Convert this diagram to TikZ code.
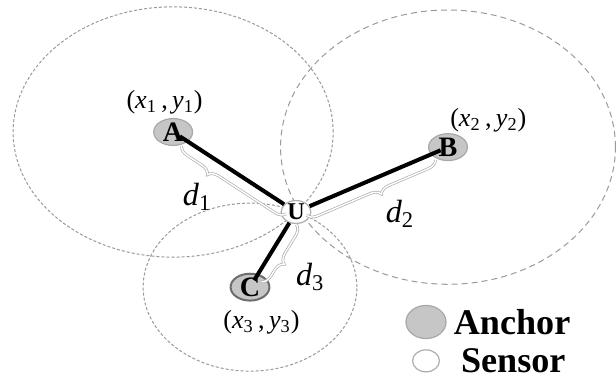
\documentclass[tikz,border=0pt]{standalone}
\usepackage{fontspec}
\setmainfont{Liberation Serif}
\usetikzlibrary{calc, positioning, shapes.geometric, decorations.pathreplacing}
\definecolor{cAnc}{HTML}{C6C6C6}
\definecolor{cRng}{HTML}{9A9A9A}
\newcommand{\xylab}[1]{(\textit{x}\textsubscript{#1}\,,\,\textit{y}\textsubscript{#1})}
\newcommand{\dlab}[1]{\textit{d}\textsubscript{#1}}
\tikzset{
    anc/.style={ellipse, draw=cAnc!85!black, fill=cAnc, line width=0.6pt,
                minimum width=0.68cm, minimum height=0.47cm, inner sep=0pt,
                font=\bfseries\fontsize{14}{15}\selectfont},
    sens/.style={ellipse, draw=cRng!80, fill=white, line width=0.6pt,
                 minimum width=0.52cm, minimum height=0.4cm, inner sep=0pt,
                 font=\bfseries\fontsize{12}{13}\selectfont},
    rng/.style={draw=cRng, line width=0.5pt, dash pattern=on 1.5pt off 1pt},
    rngwide/.style={rng, dash pattern=on 3pt off 2pt},
    spoke/.style={line width=2pt, black},
    brc/.style={decorate, decoration={brace, amplitude=5pt, raise=3.5pt},
                draw=cRng!80, line width=0.35pt, double=white, double distance=0.7pt},
    xylbl/.style={font=\fontsize{13}{15}\selectfont, inner sep=1pt},
    dlbl/.style={font=\fontsize{16}{18}\selectfont, inner sep=1pt},
    legtxt/.style={font=\bfseries\fontsize{18}{20}\selectfont, inner sep=0pt},
}

\begin{document}
\begin{tikzpicture}[x=1cm, y=1cm]

\useasboundingbox (0,0) rectangle (10.78,6.615);

% positions of the anchors and the sensor
\coordinate (pA) at (3.03,4.305);
\coordinate (pB) at (7.84,4.04);
\coordinate (pC) at (4.375,1.59);
\coordinate (pU) at (5.18,2.905);

% ranges
\draw[rng]     (pA) ellipse [x radius=2.8,  y radius=2.19];
\draw[rngwide] (pB) ellipse [x radius=2.93, y radius=2.4];
\draw[rng]     (pC) ellipse [x radius=1.87, y radius=1.47];

\node[anc]  (A) at (pA) {A};
\node[anc]  (B) at (pB) {B};
\node[anc, draw=cAnc!55!black, line width=1pt] (C) at (pC) {C};
\node[sens] (U) at (pU) {U};

\foreach \s in {A,B,C}{%
    \draw[spoke, shorten <=4pt] (\s.center) -- (U);}

% distances
\draw[brc, decoration={aspect=0.7}]  ($(U)!0.05!(A)$) -- ($(A)!0.1!(U)$);
\draw[brc, decoration={aspect=0.45}] ($(B)!0.1!(U)$) -- ($(U)!0.05!(B)$);
\draw[brc, decoration={aspect=0.6}]  ($(U)!0.12!(C)$) -- ($(C)!0.12!(U)$);

\node[dlbl] (d1) at (3.45,3.17) {\dlab{1}};
\node[dlbl] (d2) at (7.0,2.87)  {\dlab{2}};
\node[dlbl] (d3) at (5.43,1.77) {\dlab{3}};

\node[xylbl, above=0.02cm of A, xshift=-1.5mm] (cA) {\xylab{1}};
\node[xylbl, above right=0.05cm and -0.25cm of B] (cB) {\xylab{2}};
\node[xylbl, below=0.12cm of C, xshift=2mm] (cC) {\xylab{3}};

% legend
\node[anc, minimum width=0.7cm, minimum height=0.58cm] (kA) at (7.455,0.98) {};
\node[sens, minimum width=0.47cm, minimum height=0.385cm] (kS) at (7.455,0.30) {};
\node[legtxt, right=0.12cm of kA] (tA) {Anchor};
\node[legtxt, right=0.36cm of kS] (tS) {Sensor};

\end{tikzpicture}
\end{document}
